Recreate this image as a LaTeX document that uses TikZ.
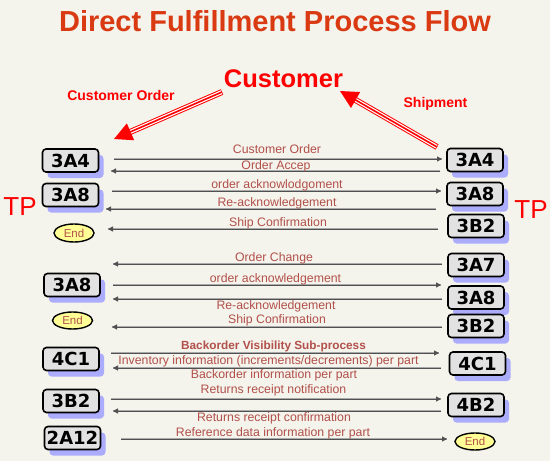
\documentclass[tikz,border=0pt]{standalone}
\usepackage{fontspec}
\setmainfont{Liberation Sans}
\newfontfamily\boxfont{DejaVu Sans}
\usetikzlibrary{arrows.meta,shadows,shapes.geometric}
\definecolor{bg}{RGB}{244,243,236}
\definecolor{titlec}{RGB}{218,58,18}
\definecolor{lblc}{RGB}{178,80,74}
\definecolor{shblue}{RGB}{172,172,252}
\definecolor{boxfill}{RGB}{226,226,226}
\definecolor{endfill}{RGB}{255,255,150}
\definecolor{linec}{RGB}{80,80,80}
\definecolor{lineshc}{RGB}{170,170,170}
\tikzset{
  bx/.style={draw=black, line width=1.6pt, rounded corners=3.5pt, fill=boxfill,
    minimum width=56pt, minimum height=23pt, inner sep=0pt,
    font=\boxfont\bfseries\fontsize{18}{18}\selectfont,
    drop shadow={shadow xshift=5pt, shadow yshift=-6pt, fill=shblue, opacity=1}},
  endnode/.style={ellipse, draw=black, line width=1.4pt, fill=endfill,
    minimum width=40pt, minimum height=18pt, inner sep=0pt, text=lblc,
    font=\fontsize{11.5}{11.5}\selectfont},
  lbl/.style={anchor=base, text=lblc, inner sep=0pt, font=\fontsize{12.3}{12.3}\selectfont},
  msg/.style={draw=linec, line width=1pt, -{Triangle[length=5pt,width=5pt]}},
  msgsh/.style={draw=lineshc, line width=1.2pt, yshift=-1.6pt},
  redtxt/.style={text=red, inner sep=0pt, anchor=base},
}
\newcommand{\msgline}[2]{%
  \draw[msgsh] (#1) -- (#2);
  \draw[msg] (#1) -- (#2);}
\begin{document}
\begin{tikzpicture}[x=1pt,y=-1pt]
\path[fill=bg] (0,0) rectangle (550,461);

% title
\node[anchor=base, text=titlec, inner sep=0pt, font=\bfseries\fontsize{29}{29}\selectfont] (title) at (275,31) {Direct Fulfillment Process Flow};
\node[redtxt, font=\bfseries\fontsize{25.5}{25.5}\selectfont] (cust) at (283.5,87) {Customer};
\node[redtxt, font=\bfseries\fontsize{14}{14}\selectfont] (custord) at (121,100) {Customer Order};
\node[redtxt, font=\bfseries\fontsize{14}{14}\selectfont] (ship) at (435.5,107) {Shipment};
\node[redtxt, font=\fontsize{26}{26}\selectfont] (tpl) at (20,215) {TP};
\node[redtxt, font=\fontsize{26}{26}\selectfont] (tpr) at (531,218) {TP};

% red arrows
\coordinate (ra1) at (222,92);
\coordinate (ra2) at (114,139);
\coordinate (rb1) at (437,147);
\coordinate (rb2) at (340,91);
\foreach \s/\e in {ra1/ra2, rb1/rb2}{
  \draw[red, line width=6pt, shorten >=12pt] (\s) -- (\e);
  \draw[white, line width=4pt, shorten >=12pt, shorten <=0.5pt] (\s) -- (\e);
  \draw[red, line width=1.6pt, -{Triangle[length=18pt,width=18pt]}] (\s) -- (\e);
}

% left nodes
\node[bx] (L3A4) at (70.5,160.5) {3A4};
\node[bx] (L3A8a) at (70.5,195) {3A8};
\node[endnode] (LEnd1) at (74,233) {End};
\node[bx] (L3A8b) at (72,285) {3A8};
\node[endnode, minimum height=17pt] (LEnd2) at (72.5,320.5) {End};
\node[bx] (L4C1) at (71,359) {4C1};
\node[bx] (L3B2) at (71,401) {3B2};
\node[bx] (L2A12) at (72.5,438) {2A12};

% right nodes
\node[bx] (R3A4) at (475,160) {3A4};
\node[bx] (R3A8a) at (475,194) {3A8};
\node[bx] (R3B2a) at (476,226) {3B2};
\node[bx] (R3A7) at (476,265) {3A7};
\node[bx] (R3A8b) at (476,297.5) {3A8};
\node[bx] (R3B2b) at (476,326) {3B2};
\node[bx] (R4C1) at (477.5,363.5) {4C1};
\node[bx] (R4B2) at (476,405) {4B2};
\node[endnode, minimum height=17pt] (REnd) at (475,441.5) {End};

% message end points
\coordinate (m1a) at (114,159);   \coordinate (m1b) at (442,159);
\coordinate (m2a) at (440,171);   \coordinate (m2b) at (111,171);
\coordinate (m3a) at (112,191);   \coordinate (m3b) at (441,191);
\coordinate (m4a) at (436,209);   \coordinate (m4b) at (106,209);
\coordinate (m5a) at (438,229);   \coordinate (m5b) at (108,229);
\coordinate (m6a) at (442,264);   \coordinate (m6b) at (113,264);
\coordinate (m7a) at (113,285);   \coordinate (m7b) at (441,285);
\coordinate (m8a) at (442,299);   \coordinate (m8b) at (113,299);
\coordinate (m9a) at (442,327);   \coordinate (m9b) at (112,327);
\coordinate (m10a) at (111,353);  \coordinate (m10b) at (439,353);
\coordinate (m11a) at (441,368);  \coordinate (m11b) at (113,368);
\coordinate (m12a) at (111,399);  \coordinate (m12b) at (441,399);
\coordinate (m13a) at (441,411);  \coordinate (m13b) at (113,411);
\coordinate (m14a) at (121,439);  \coordinate (m14b) at (447,439);

\foreach \i in {1,...,14}{\msgline{m\i a}{m\i b}}

% labels
\node[lbl] (t1) at (277,153.5) {Customer Order};
\node[lbl] (t2) at (276,169.5) {Order Accep};
\node[lbl] (t3) at (277,188.5) {order acknowlodgoment};
\node[lbl] (t4) at (277,206.5) {Re-acknowledgement};
\node[lbl] (t5) at (278,226.5) {Ship Confirmation};
\node[lbl] (t6) at (274,261.5) {Order Change};
\node[lbl] (t7) at (275.5,282.5) {order acknowledgement};
\node[lbl] (t8) at (276,309.5) {Re-acknowledgement};
\node[lbl] (t9) at (277,323.5) {Ship Confirmation};
\node[lbl, font=\bfseries\fontsize{11.8}{11.8}\selectfont] (tbv) at (273.5,349.5) {Backorder Visibility Sub-process};
\node[lbl] (t10) at (268.5,364.5) {Inventory information (increments/decrements) per part};
\node[lbl] (t11) at (274,378.5) {Backorder information per part};
\node[lbl] (t12) at (273.5,393.5) {Returns receipt notification};
\node[lbl] (t13) at (274,421.5) {Returns receipt confirmation};
\node[lbl] (t14) at (273,436.5) {Reference data information per part};
\end{tikzpicture}
\end{document}
